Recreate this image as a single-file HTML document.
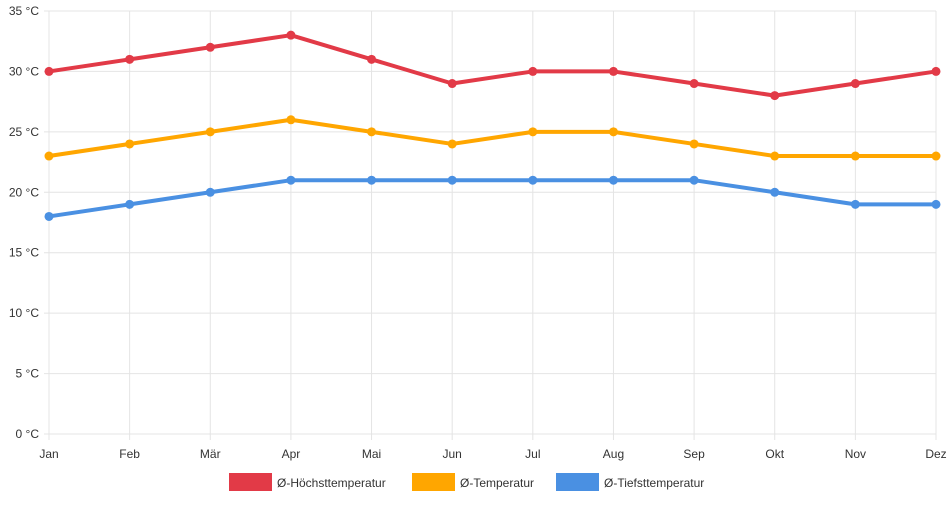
<!DOCTYPE html>
<html><head><meta charset="utf-8"><style>
body{margin:0;background:#fff;font-family:"Liberation Sans",sans-serif}
svg text{font-family:"Liberation Sans",sans-serif;font-size:12px;fill:#333}
</style></head><body>
<svg width="952" height="500">
<g id="grid"></g>
<g id="yticks"></g>
<g id="xticks"></g>
<g id="series"></g>
<g>
<rect x="229" y="473" width="43" height="18" fill="#e23a47"/>
<text x="277" y="487">Ø-Höchsttemperatur</text>
<rect x="412" y="473" width="43" height="18" fill="#ffa600"/>
<text x="460" y="487">Ø-Temperatur</text>
<rect x="556" y="473" width="43" height="18" fill="#4a90e2"/>
<text x="604" y="487">Ø-Tiefsttemperatur</text>
</g>
</svg>
<script>
const months=["Jan","Feb","Mär","Apr","Mai","Jun","Jul","Aug","Sep","Okt","Nov","Dez"];
const high=[30,31,32,33,31,29,30,30,29,28,29,30];
const avg=[23,24,25,26,25,24,25,25,24,23,23,23];
const low=[18,19,20,21,21,21,21,21,21,20,19,19];
const yTicks=[0,5,10,15,20,25,30,35];
const NS="http://www.w3.org/2000/svg";
const x0=49,x1=936,y0=434,y1=11,yMax=35;
const xs=i=>x0+i*(x1-x0)/(months.length-1);
const ys=v=>y0-(v/yMax)*(y0-y1);
function mk(t,a,p){const e=document.createElementNS(NS,t);for(const k in a)e.setAttribute(k,a[k]);p.appendChild(e);return e;}
const grid=document.getElementById('grid'),yt=document.getElementById('yticks'),xt=document.getElementById('xticks'),ser=document.getElementById('series');
yTicks.forEach(v=>{
 const l=mk('line',{x1:x0-5,x2:x1,y1:ys(v),y2:ys(v),stroke:'#e4e4e4','stroke-width':1},grid);
 
 
 const t=mk('text',{x:x0-10,y:ys(v)+4,'text-anchor':'end'},yt);t.textContent=v+' °C';
 
 
});
months.forEach((m,i)=>{
 const l=mk('line',{x1:xs(i),x2:xs(i),y1:y1,y2:y0+6,stroke:'#e4e4e4','stroke-width':1},grid);
 
 
 const t=mk('text',{x:xs(i),y:y0+24,'text-anchor':'middle'},xt);t.textContent=m;
 
 
});
[[low,'#4a90e2','low'],[avg,'#ffa600','avg'],[high,'#e23a47','high']].forEach(([d,c,n])=>{
 const p=mk('polyline',{points:d.map((v,i)=>xs(i)+','+ys(v)).join(' '),fill:'none',stroke:c,'stroke-width':4,'stroke-linejoin':'round'},ser);
 
 
 d.forEach((v,i)=>{const c2=mk('circle',{cx:xs(i),cy:ys(v),r:4.5,fill:c},ser);
 
 });
});
</script>
</body></html>
